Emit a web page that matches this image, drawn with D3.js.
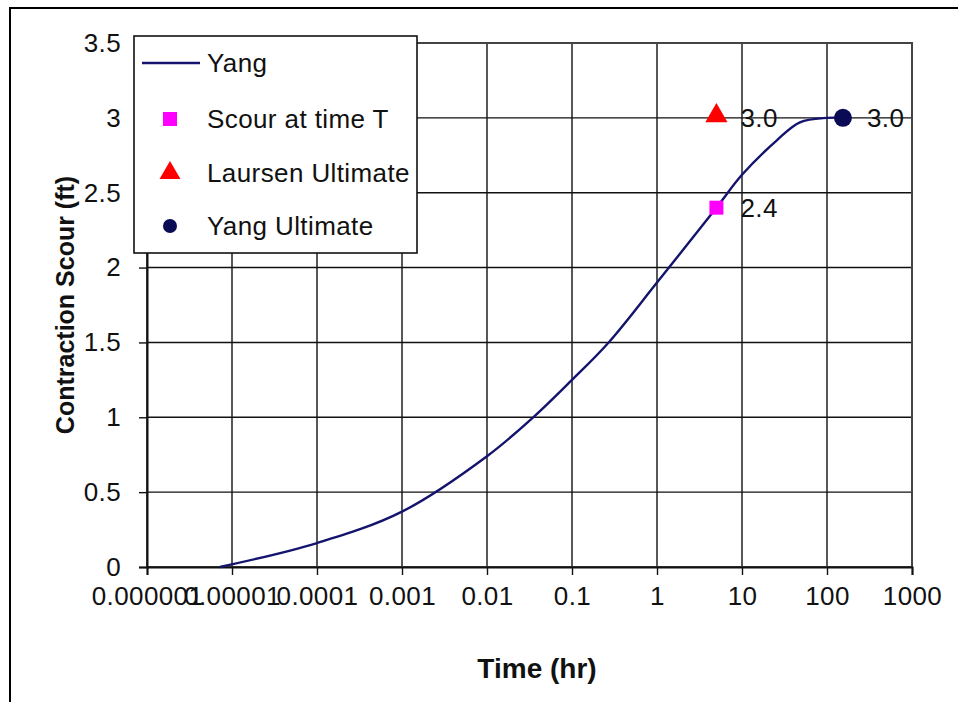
<!DOCTYPE html>
<html>
<head>
<meta charset="utf-8">
<script src="https://cdn.jsdelivr.net/npm/d3@7"></script>
<style>
  body { margin: 0; background: #fff; }
  svg { display: block; font-family: Arial, "Liberation Sans", sans-serif; }
</style>
</head>
<body>
<svg id="chart" width="958" height="702"></svg>
<script>
// Yang curve (time in hr, scour in ft)
const yangTime  = [7.2e-6, 1e-4, 1e-3, 0.01, 0.035, 0.1, 0.27, 1, 5, 10, 25.7, 48, 100, 154];
const yangScour = [0, 0.16, 0.37, 0.74, 1.0, 1.25, 1.5, 1.9, 2.4, 2.62, 2.85, 2.97, 3.0, 3.0];

const scourAtT = { time: 5, scour: 2.4, label: '2.4' };
const laursenUlt = { time: 5, scour: 3.0, label: '3.0' };
const yangUlt = { time: 154, scour: 3.0, label: '3.0' };

const xTicks = [1e-6, 1e-5, 1e-4, 1e-3, 0.01, 0.1, 1, 10, 100, 1000];
const xTickLabels = ['0.000001', '0.00001', '0.0001', '0.001', '0.01', '0.1', '1', '10', '100', '1000'];
const yTicks = [0, 0.5, 1, 1.5, 2, 2.5, 3, 3.5];

const legendNames = ['Yang', 'Scour at time T', 'Laursen Ultimate', 'Yang Ultimate'];

const margin = { top: 43, right: 46, bottom: 135, left: 147 };
const width = 958 - margin.left - margin.right;
const height = 702 - margin.top - margin.bottom;

const fontSize = 26;
const spacing = '0.4px';

const svg = d3.select('#chart');

// outer frame
svg.append('rect')
  .attr('x', 10).attr('y', 8)
  .attr('width', 980).attr('height', 720)
  .attr('fill', 'none').attr('stroke', '#000').attr('stroke-width', 2);

const g = svg.append('g').attr('transform', `translate(${margin.left},${margin.top})`);

const x = d3.scaleLog().domain([1e-6, 1000]).range([0, width]);
const y = d3.scaleLinear().domain([0, 3.5]).range([height, 0]);

// gridlines
g.append('g')
  .selectAll('line')
  .data(xTicks)
  .join('line')
  .attr('x1', (d) => x(d)).attr('x2', (d) => x(d))
  .attr('y1', 0).attr('y2', height)
  .attr('stroke', '#111').attr('stroke-width', 1.4);

g.append('g')
  .selectAll('line')
  .data(yTicks)
  .join('line')
  .attr('x1', 0).attr('x2', width)
  .attr('y1', (d) => y(d)).attr('y2', (d) => y(d))
  .attr('stroke', '#111').attr('stroke-width', 1.4);

// plot border
g.append('rect')
  .attr('width', width).attr('height', height)
  .attr('fill', 'none').attr('stroke', '#444').attr('stroke-width', 2);

// axes
const xAxis = g.append('g')
  .attr('transform', `translate(0,${height})`)
  .call(d3.axisBottom(x).tickValues(xTicks).tickFormat((d, i) => xTickLabels[i]).tickSize(8).tickPadding(12));
xAxis.select('.domain').attr('stroke', '#111').attr('stroke-width', 2);
xAxis.selectAll('.tick line').attr('stroke', '#111').attr('stroke-width', 1.4);
xAxis.selectAll('.tick text')
  .attr('font-size', fontSize).attr('fill', '#111').attr('letter-spacing', spacing)
  .attr('font-family', 'Arial, "Liberation Sans", sans-serif');

const yAxis = g.append('g')
  .call(d3.axisLeft(y).tickValues(yTicks).tickFormat(d3.format('')).tickSize(8).tickPadding(18));
yAxis.select('.domain').attr('stroke', '#111').attr('stroke-width', 2);
yAxis.selectAll('.tick line').attr('stroke', '#111').attr('stroke-width', 1.4);
yAxis.selectAll('.tick text')
  .attr('font-size', fontSize).attr('fill', '#111').attr('letter-spacing', spacing)
  .attr('font-family', 'Arial, "Liberation Sans", sans-serif');

// axis titles
svg.append('text')
  .attr('x', 537).attr('y', 678)
  .attr('text-anchor', 'middle')
  .attr('font-size', 28).attr('font-weight', 'bold').attr('fill', '#111')
  .text('Time (hr)');

svg.append('text')
  .attr('transform', 'translate(74,305) rotate(-90)')
  .attr('text-anchor', 'middle')
  .attr('font-size', 25).attr('font-weight', 'bold').attr('fill', '#111')
  .text('Contraction Scour (ft)');

// Yang curve
const yangData = yangTime.map((t, i) => ({ time: t, scour: yangScour[i] }));
const line = d3.line()
  .x((d) => x(d.time))
  .y((d) => y(d.scour))
  .curve(d3.curveCatmullRom.alpha(0.5));

g.append('path')
  .datum(yangData)
  .attr('fill', 'none')
  .attr('stroke', '#14146e')
  .attr('stroke-width', 2.4)
  .attr('d', line);

// markers
const sym = (type, size) => d3.symbol().type(type).size(size)();

g.append('path')
  .attr('transform', `translate(${x(scourAtT.time)},${y(scourAtT.scour)})`)
  .attr('d', sym(d3.symbolSquare, 196))
  .attr('fill', '#ff00ff');

g.append('path')
  .attr('transform', `translate(${x(laursenUlt.time)},${y(laursenUlt.scour) - 2})`)
  .attr('d', sym(d3.symbolTriangle, 215))
  .attr('fill', '#ff0000');

g.append('circle')
  .attr('cx', x(yangUlt.time)).attr('cy', y(yangUlt.scour))
  .attr('r', 9)
  .attr('fill', '#0a0a55');

// data labels
[scourAtT, laursenUlt, yangUlt].forEach((d) => {
  g.append('text')
    .attr('x', x(d.time) + 24)
    .attr('y', y(d.scour) + 9)
    .attr('font-size', fontSize).attr('fill', '#111').attr('letter-spacing', spacing)
    .text(d.label);
});

// legend
const legend = svg.append('g').attr('transform', 'translate(134,36)');
legend.append('rect')
  .attr('width', 283).attr('height', 217)
  .attr('fill', '#fff').attr('stroke', '#111').attr('stroke-width', 1.6);

const rowY = [27, 83, 137, 190];
legend.append('line')
  .attr('x1', 8).attr('x2', 66)
  .attr('y1', rowY[0]).attr('y2', rowY[0])
  .attr('stroke', '#14146e').attr('stroke-width', 2.4);
legend.append('path')
  .attr('transform', `translate(36,${rowY[1]})`)
  .attr('d', sym(d3.symbolSquare, 196))
  .attr('fill', '#ff00ff');
legend.append('path')
  .attr('transform', `translate(36,${rowY[2]})`)
  .attr('d', sym(d3.symbolTriangle, 190))
  .attr('fill', '#ff0000');
legend.append('circle')
  .attr('cx', 36).attr('cy', rowY[3]).attr('r', 7)
  .attr('fill', '#0a0a55');

legend.selectAll('text')
  .data(legendNames)
  .join('text')
  .attr('x', 73)
  .attr('y', (d, i) => rowY[i] + 9)
  .attr('font-size', fontSize).attr('fill', '#111').attr('letter-spacing', spacing)
  .text((d) => d);
</script>
</body>
</html>
